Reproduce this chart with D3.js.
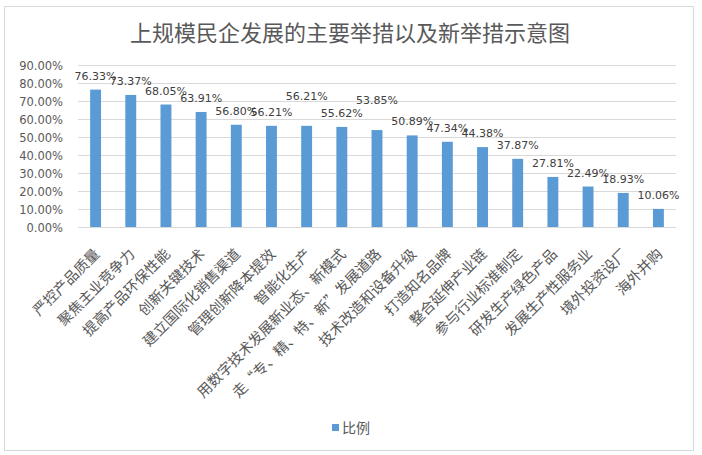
<!DOCTYPE html>
<html><head><meta charset="utf-8">
<script src="https://cdn.jsdelivr.net/npm/d3@7"></script>
<style>
html,body{margin:0;padding:0;background:#fff;}
svg{display:block;}
</style></head>
<body>
<svg id="chart" width="702" height="455"></svg>
<script>
const title = "上规模民企发展的主要举措以及新举措示意图";
const categories = ["严控产品质量","聚焦主业竞争力","提高产品环保性能","创新关键技术","建立国际化销售渠道","管理创新降本提效","智能化生产","用数字技术发展新业态、新模式","走“专、精、特、新”发展道路","技术改造和设备升级","打造知名品牌","整合延伸产业链","参与行业标准制定","研发生产绿色产品","发展生产性服务业","境外投资设厂","海外并购"];
const values = [76.33,73.37,68.05,63.91,56.80,56.21,56.21,55.62,53.85,50.89,47.34,44.38,37.87,27.81,22.49,18.93,10.06];
const yTicks = [0,10,20,30,40,50,60,70,80,90];
const seriesName = "比例";
const raisedLabels = [6, 8];

const svg = d3.select("#chart");
const x = d3.scaleBand().domain(categories).range([78, 676]).paddingInner(0.69).paddingOuter(0.345);
const y = d3.scaleLinear().domain([0, 90]).range([227, 65]);
const grey = "#595959";
const numFont = "'DejaVu Sans', sans-serif";
const cjkFont = "'Noto Sans CJK SC', sans-serif";

// outer border
svg.append("rect").attr("x",4.5).attr("y",6.5).attr("width",689).attr("height",444)
  .attr("fill","#fff").attr("stroke","#d9d9d9").attr("stroke-width",1);

// title
svg.append("text").attr("x",350).attr("y",41).attr("text-anchor","middle")
  .attr("font-family",cjkFont).attr("font-size",22).attr("fill",grey).text(title);

// gridlines
svg.append("g").selectAll("line").data(yTicks).join("line")
  .attr("x1",78).attr("x2",676)
  .attr("y1",d=>Math.round(y(d))+0.5).attr("y2",d=>Math.round(y(d))+0.5)
  .attr("stroke","#d9d9d9").attr("stroke-width",1);

// y axis labels
const yAxis = d3.axisLeft(y).tickValues(yTicks).tickSize(0).tickPadding(0)
  .tickFormat(d=>d.toFixed(2)+"%");
const ya = svg.append("g").attr("transform","translate(63,0)").call(yAxis);
ya.select(".domain").remove();
ya.selectAll("text").attr("font-family",numFont).attr("font-size",11.5).attr("fill",grey).attr("dy","0.35em");

// bars
svg.append("g").selectAll("rect").data(values).join("rect")
  .attr("x",(d,i)=>x(categories[i])).attr("width",x.bandwidth())
  .attr("y",d=>y(d)).attr("height",d=>y(0)-y(d)).attr("fill","#5b9bd5");

// data labels
svg.append("g").selectAll("text").data(values).join("text")
  .attr("x",(d,i)=>x(categories[i])+x.bandwidth()/2)
  .attr("y",(d,i)=>y(d)-10-(raisedLabels.includes(i)?16:0))
  .attr("text-anchor","middle").attr("font-family",numFont).attr("font-size",11)
  .attr("fill","#404040").text(d=>d.toFixed(2)+"%");

// x labels
const xAxis = d3.axisBottom(x).tickSize(0).tickPadding(0);
const xa = svg.append("g").attr("transform","translate(0,227)").call(xAxis);
xa.select(".domain").remove();
xa.selectAll("text").attr("font-family",cjkFont).attr("font-size",14.5).attr("fill",grey)
  .attr("text-anchor","end").attr("dy",0).attr("y",0)
  .attr("transform","translate(5,28) rotate(-45)");

// legend
svg.append("rect").attr("x",332).attr("y",424).attr("width",7).attr("height",7).attr("fill","#5b9bd5");
svg.append("text").attr("x",342).attr("y",433).attr("font-family",cjkFont).attr("font-size",14)
  .attr("fill",grey).text(seriesName);
</script>
</body></html>
